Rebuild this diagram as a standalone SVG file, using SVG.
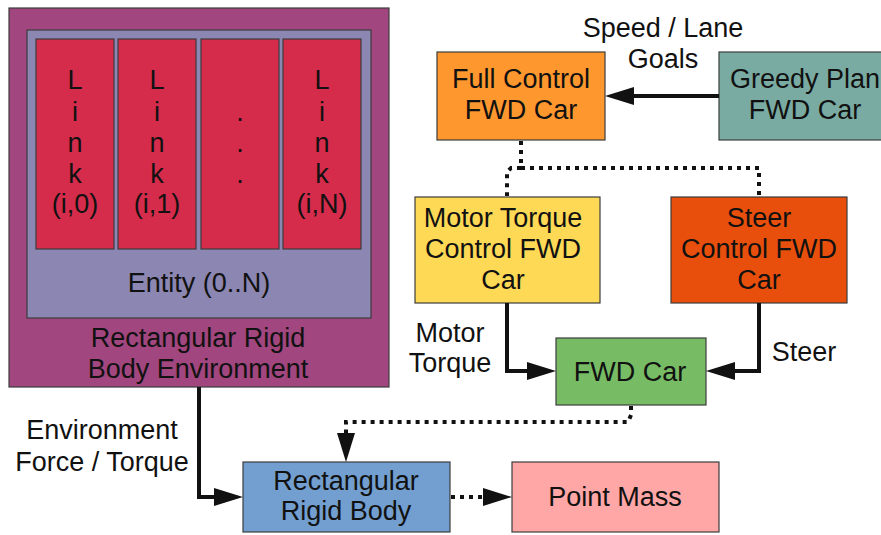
<svg xmlns="http://www.w3.org/2000/svg" width="881" height="535" viewBox="0 0 881 535">
  <style>
    text { font-family: "Liberation Sans", Arial, sans-serif; font-size: 27px; fill: #111; text-anchor: middle; }
    .box { stroke: #3c3c3c; stroke-width: 1.2; }
    .solid { fill: none; stroke: #111; stroke-width: 4; }
    .dotted { fill: none; stroke: #111; stroke-width: 4; stroke-dasharray: 4 5; }
  </style>
  <defs>
    <marker id="arrow" markerUnits="userSpaceOnUse" markerWidth="30" markerHeight="20" refX="0" refY="10" orient="auto" viewBox="0 0 30 20">
      <path d="M0,1 L29,10 L0,19 Z" fill="#111"/>
    </marker>
  </defs>

  <rect width="881" height="535" fill="#ffffff"/>

  <!-- Environment containing entities and their links -->
  <g id="environment">
    <rect class="box" x="9" y="8" width="380" height="379" fill="#a1467e"/>
    <text x="198" y="347">Rectangular Rigid</text>
    <text x="198" y="378">Body Environment</text>
  </g>
  <g id="entity">
    <rect class="box" x="27" y="30" width="344" height="288" fill="#8b86b2"/>
    <text x="199" y="292">Entity (0..N)</text>
  </g>
  <g id="link-i0">
    <rect class="box" x="36" y="39" width="78" height="210" fill="#d52c4c"/>
    <text x="75" y="89">L</text><text x="75" y="121">i</text><text x="75" y="152">n</text><text x="75" y="183">k</text><text x="75" y="213">(i,0)</text>
  </g>
  <g id="link-i1">
    <rect class="box" x="118" y="39" width="78" height="210" fill="#d52c4c"/>
    <text x="157" y="89">L</text><text x="157" y="121">i</text><text x="157" y="152">n</text><text x="157" y="183">k</text><text x="157" y="213">(i,1)</text>
  </g>
  <g id="link-ellipsis">
    <rect class="box" x="201" y="39" width="78" height="210" fill="#d52c4c"/>
    <text x="240" y="121">.</text><text x="240" y="152">.</text><text x="240" y="183">.</text>
  </g>
  <g id="link-iN">
    <rect class="box" x="283" y="39" width="78" height="210" fill="#d52c4c"/>
    <text x="322" y="89">L</text><text x="322" y="121">i</text><text x="322" y="152">n</text><text x="322" y="183">k</text><text x="322" y="213">(i,N)</text>
  </g>

  <!-- Controllers -->
  <g id="full-control">
    <rect class="box" x="437" y="52" width="168" height="88" fill="#ff972f"/>
    <text x="521" y="88">Full Control</text>
    <text x="521" y="119">FWD Car</text>
  </g>
  <g id="greedy-plan">
    <rect class="box" x="719" y="52" width="172" height="88" fill="#7aaba2"/>
    <text x="805" y="88">Greedy Plan</text>
    <text x="805" y="119">FWD Car</text>
  </g>
  <g id="motor-torque-control">
    <rect class="box" x="415" y="197" width="185" height="106" fill="#fdd956"/>
    <text x="503" y="227">Motor Torque</text>
    <text x="503" y="258">Control FWD</text>
    <text x="503" y="289">Car</text>
  </g>
  <g id="steer-control">
    <rect class="box" x="671" y="197" width="176" height="106" fill="#e94f0c"/>
    <text x="759" y="227">Steer</text>
    <text x="759" y="258">Control FWD</text>
    <text x="759" y="289">Car</text>
  </g>
  <g id="fwd-car">
    <rect class="box" x="556" y="338" width="150" height="67" fill="#77bb65"/>
    <text x="630" y="381">FWD Car</text>
  </g>
  <g id="rigid-body">
    <rect class="box" x="243" y="462" width="207" height="70" fill="#729fcf"/>
    <text x="346" y="490">Rectangular</text>
    <text x="346" y="520">Rigid Body</text>
  </g>
  <g id="point-mass">
    <rect class="box" x="512" y="462" width="207" height="70" fill="#ffa6a6"/>
    <text x="615" y="506">Point Mass</text>
  </g>

  <!-- Connectors -->
  <g id="connectors">
    <path class="solid" d="M719,96 H634" marker-end="url(#arrow)"/>
    <path class="dotted" d="M521,141 V168 H759 V197"/>
    <path class="dotted" d="M521,168 H511 L507,172 V196"/>
    <path class="solid" d="M507,303 V371 H527" marker-end="url(#arrow)"/>
    <path class="solid" d="M759,303 V371 H735" marker-end="url(#arrow)"/>
    <path class="dotted" d="M631,406 V415 L628,422 H346 V433" marker-end="url(#arrow)"/>
    <path class="solid" d="M199,387 V497 H214" marker-end="url(#arrow)"/>
    <path class="dotted" d="M451,497 H483" marker-end="url(#arrow)"/>
  </g>

  <!-- Connector labels -->
  <g id="labels">
    <text x="663" y="37">Speed / Lane</text>
    <text x="663" y="68">Goals</text>
    <text x="450" y="342">Motor</text>
    <text x="450" y="372">Torque</text>
    <text x="804" y="361">Steer</text>
    <text x="102" y="439">Environment</text>
    <text x="102" y="471">Force / Torque</text>
  </g>
</svg>
